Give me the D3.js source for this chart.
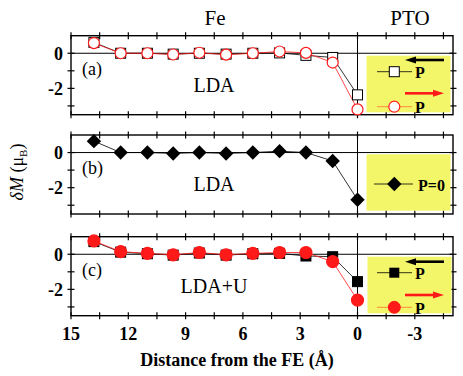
<!DOCTYPE html>
<html>
<head>
<meta charset="utf-8">
<script src="https://cdn.jsdelivr.net/npm/d3@7"></script>
<style>
  body { margin: 0; background: #fff; }
  svg { display: block; font-family: "Liberation Serif", "DejaVu Serif", serif; }
</style>
</head>
<body>
<div id="chart"></div>
<script>
// Data (distance from the FE interface in Å, magnetic moment change in μB)

const distances = [13.8, 12.4, 11.0, 9.65, 8.28, 6.88, 5.48, 4.08, 2.7, 1.3, 0];

const aPLeft  = [0.62, 0.0, 0.0, -0.05, 0.0, -0.05, 0.0, 0.02, -0.12, -0.24, -2.37];   // open squares
const aPRight = [0.58, 0.0, 0.0, -0.07, 0.03, -0.08, 0.0, 0.1, 0.02, -0.53, -3.2];    // open circles
const bPZero  = [0.65, 0.0, 0.0, -0.05, 0.0, -0.05, 0.0, 0.08, 0.0, -0.48, -2.69];    // diamonds
const cPLeft  = [0.72, 0.12, 0.03, -0.05, 0.07, -0.05, 0.03, 0.05, -0.1, -0.14, -1.56];// filled squares
const cPRight = [0.76, 0.15, 0.05, -0.03, 0.1, -0.03, 0.05, 0.1, 0.1, -0.42, -2.61];  // filled circles

const xMajorTicks = [15, 12, 9, 6, 3, 0, -3];
const xMinorTicks = [13.5, 10.5, 7.5, 4.5, 1.5, -1.5, -4.5];
const yLabelTicks = [0, -2];
const yAllTicks = [0, -1, -2, -3];

// Layout

const W = 463, H = 376;
const left = 71, right = 453;
const panelTops = [35.7, 135, 236.7];
const panelH = 79;
const yellow = "#f4f66a";
const red = "#ff1a1a";

const svg = d3.select("#chart").append("svg")
    .attr("width", W).attr("height", H);

const x = d3.scaleLinear().domain([15, -5]).range([left, right]);

function makePanel(i) {
    const top = panelTops[i];
    const y = d3.scaleLinear().domain([1, -3.5]).range([top, top + panelH]);
    const g = svg.append("g");

    // zero lines
    g.append("line").attr("x1", left).attr("x2", right)
        .attr("y1", y(0)).attr("y2", y(0)).attr("stroke", "#000").attr("stroke-width", 1);
    g.append("line").attr("x1", x(0)).attr("x2", x(0))
        .attr("y1", top).attr("y2", top + panelH).attr("stroke", "#000").attr("stroke-width", 1);

    // frame
    g.append("rect").attr("x", left).attr("y", top)
        .attr("width", right - left).attr("height", panelH)
        .attr("fill", "none").attr("stroke", "#000").attr("stroke-width", 1.4);

    // x ticks (crossing top and bottom spines)
    [top, top + panelH].forEach(yy => {
        g.selectAll(null).data(xMajorTicks.concat(xMinorTicks)).enter().append("line")
            .attr("x1", d => x(d)).attr("x2", d => x(d))
            .attr("y1", yy - 3.5).attr("y2", yy + 3.5)
            .attr("stroke", "#000").attr("stroke-width", 1.2);
    });
    // y ticks (left and right)
    [left, right].forEach(xx => {
        g.selectAll(null).data(yAllTicks).enter().append("line")
            .attr("x1", xx - 3.5).attr("x2", xx + 3.5)
            .attr("y1", d => y(d)).attr("y2", d => y(d))
            .attr("stroke", "#000").attr("stroke-width", 1.2);
    });
    // y tick labels
    g.selectAll(null).data(yLabelTicks).enter().append("text")
        .attr("x", left - 8).attr("y", d => y(d))
        .attr("dy", "0.35em").attr("text-anchor", "end")
        .attr("font-weight", "bold").attr("font-size", 18)
        .text(d => d === 0 ? "0" : "-" + Math.abs(d));

    return { g, y, top };
}

function series(p, vals, color, width) {
    const line = d3.line().x((d, i) => x(distances[i])).y(d => p.y(d));
    p.g.append("path").datum(vals).attr("d", line)
        .attr("fill", "none").attr("stroke", color).attr("stroke-width", width);
}

function squares(p, vals, fill) {
    p.g.selectAll(null).data(vals).enter().append("rect")
        .attr("x", (d, i) => x(distances[i]) - 5).attr("y", d => p.y(d) - 5)
        .attr("width", 10).attr("height", 10)
        .attr("fill", fill).attr("stroke", "#000").attr("stroke-width", 1);
}

function circles(p, vals, fill, r) {
    p.g.selectAll(null).data(vals).enter().append("circle")
        .attr("cx", (d, i) => x(distances[i])).attr("cy", d => p.y(d)).attr("r", r)
        .attr("fill", fill).attr("stroke", red).attr("stroke-width", 1.2);
}

const diamondPath = (cx, cy, s) => `M${cx},${cy - s}L${cx + s},${cy}L${cx},${cy + s}L${cx - s},${cy}Z`;

function arrow(g, x1, x2, yy, color) {
    const dir = Math.sign(x2 - x1);
    g.append("line").attr("x1", x1).attr("x2", x2 - dir * 8)
        .attr("y1", yy).attr("y2", yy).attr("stroke", color).attr("stroke-width", 2.6);
    g.append("path")
        .attr("d", `M${x2},${yy}L${x2 - dir * 11},${yy - 3.5}L${x2 - dir * 11},${yy + 3.5}Z`)
        .attr("fill", color);
}

function legendText(g, xx, yy, t) {
    g.append("text").attr("x", xx).attr("y", yy).attr("dy", "0.35em")
        .attr("font-weight", "bold").attr("font-size", 16).text(t);
}

const panels = [0, 1, 2].map(makePanel);

// Panel (a)
const pa = panels[0];
series(pa, aPLeft, "#000", 0.8);
series(pa, aPRight, red, 0.8);
squares(pa, aPLeft, "#fff");
circles(pa, aPRight, "#fff", 5.5);

// Panel (b)
const pb = panels[1];
series(pb, bPZero, "#000", 0.8);
pb.g.selectAll(null).data(bPZero).enter().append("path")
    .attr("d", (d, i) => diamondPath(x(distances[i]), pb.y(d), 7.2))
    .attr("fill", "#000");

// Panel (c)
const pc = panels[2];
series(pc, cPLeft, "#000", 0.8);
series(pc, cPRight, red, 0.8);
squares(pc, cPLeft, "#000");
circles(pc, cPRight, red, 6);

// Legends
const lx0 = 366.5, lx1 = 450.5;
// (a)
pa.g.append("rect").attr("x", lx0).attr("y", 55.7).attr("width", lx1 - lx0).attr("height", 56.6).attr("fill", yellow);
arrow(pa.g, 444, 405, 60, "#000");
pa.g.append("line").attr("x1", 377).attr("x2", 412).attr("y1", 71.7).attr("y2", 71.7).attr("stroke", "#000").attr("stroke-width", 0.8);
pa.g.append("rect").attr("x", 389.3).attr("y", 66.7).attr("width", 10).attr("height", 10).attr("fill", "#fff").attr("stroke", "#000");
legendText(pa.g, 415, 72, "P");
arrow(pa.g, 405, 444, 93.3, red);
pa.g.append("line").attr("x1", 377).attr("x2", 412).attr("y1", 106.7).attr("y2", 106.7).attr("stroke", "#ff7030").attr("stroke-width", 0.8);
pa.g.append("circle").attr("cx", 394.3).attr("cy", 106.7).attr("r", 5.5).attr("fill", "#fff").attr("stroke", red).attr("stroke-width", 1.2);
legendText(pa.g, 415, 107, "P");

// (b)
pb.g.append("rect").attr("x", lx0).attr("y", 154.3).attr("width", lx1 - lx0).attr("height", 56.4).attr("fill", yellow);
pb.g.append("line").attr("x1", 374).attr("x2", 413).attr("y1", 184).attr("y2", 184).attr("stroke", "#000").attr("stroke-width", 0.8);
pb.g.append("path").attr("d", diamondPath(394.3, 184, 7.2)).attr("fill", "#000");
legendText(pb.g, 418, 185, "P=0");

// (c)
pc.g.append("rect").attr("x", lx0 + 1).attr("y", 256.7).attr("width", lx1 - lx0).attr("height", 56.6).attr("fill", yellow);
arrow(pc.g, 444, 405, 261.7, "#000");
pc.g.append("line").attr("x1", 377).attr("x2", 412).attr("y1", 272.7).attr("y2", 272.7).attr("stroke", "#000").attr("stroke-width", 0.8);
pc.g.append("rect").attr("x", 389.3).attr("y", 267.7).attr("width", 10).attr("height", 10).attr("fill", "#000");
legendText(pc.g, 415, 273, "P");
arrow(pc.g, 405, 444, 295, red);
pc.g.append("line").attr("x1", 377).attr("x2", 412).attr("y1", 307.3).attr("y2", 307.3).attr("stroke", "#ff7030").attr("stroke-width", 0.8);
pc.g.append("circle").attr("cx", 394.3).attr("cy", 307.3).attr("r", 6).attr("fill", red).attr("stroke", red);
legendText(pc.g, 415, 308, "P");

// Panel labels
const panelLetters = ["(a)", "(b)", "(c)"];
const methods = ["LDA", "LDA", "LDA+U"];
panels.forEach((p, i) => {
    p.g.append("text").attr("x", 82).attr("y", p.top + 39).attr("font-size", 18).text(panelLetters[i]);
    p.g.append("text").attr("x", 214).attr("y", p.top + 56).attr("text-anchor", "middle")
        .attr("font-size", 20).text(methods[i]);
});

// Region labels on top
svg.append("text").attr("x", 215).attr("y", 25).attr("text-anchor", "middle").attr("font-size", 21).text("Fe");
svg.append("text").attr("x", 410).attr("y", 25).attr("text-anchor", "middle").attr("font-size", 21).text("PTO");

// x tick labels (bottom panel)
svg.selectAll(".xlab").data(xMajorTicks).enter().append("text")
    .attr("class", "xlab")
    .attr("x", d => x(d)).attr("y", 340)
    .attr("text-anchor", "middle").attr("font-weight", "bold").attr("font-size", 18)
    .text(d => d < 0 ? "-" + Math.abs(d) : d);

// x axis title
svg.append("text").attr("x", 237).attr("y", 366).attr("text-anchor", "middle")
    .attr("font-weight", "bold").attr("font-size", 18).text("Distance from the FE (Å)");

// y axis title
const yt = svg.append("text").attr("transform", "translate(23,172) rotate(-90)")
    .attr("text-anchor", "middle").attr("font-size", 18);
yt.append("tspan").attr("font-style", "italic").text("δM");
yt.append("tspan").text(" (μ");
yt.append("tspan").attr("font-size", 11).attr("dy", 4).text("B");
yt.append("tspan").attr("dy", -4).text(")");
</script>
</body>
</html>
